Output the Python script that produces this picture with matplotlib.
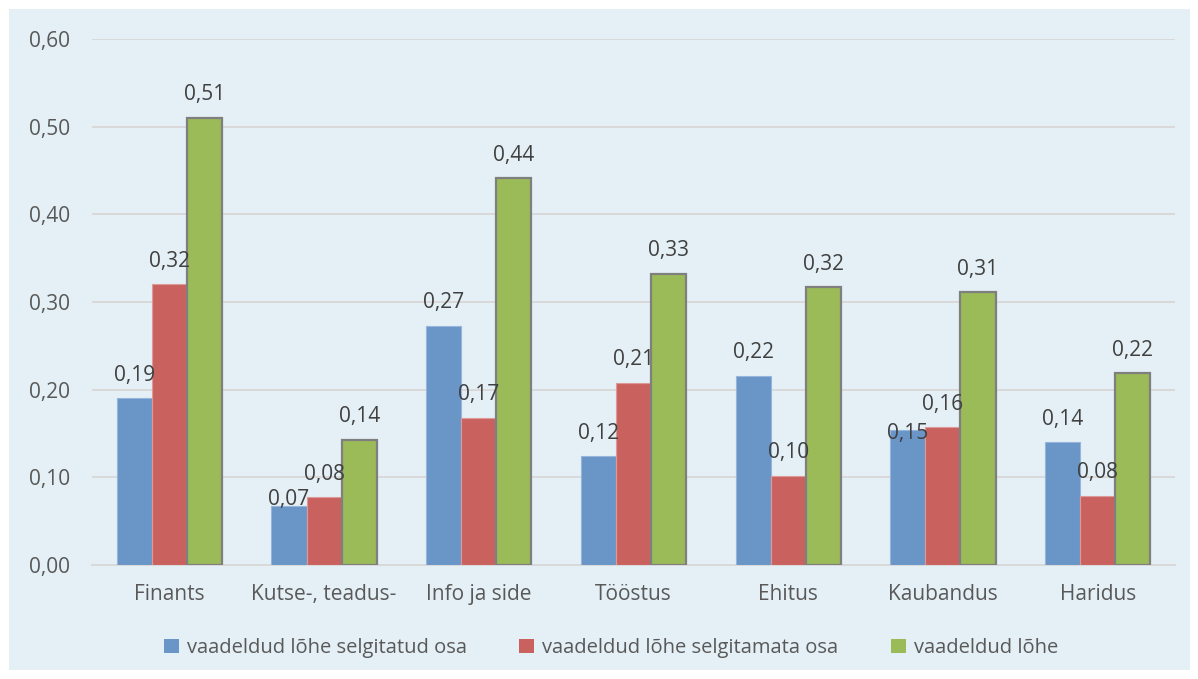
import matplotlib
matplotlib.use("Agg")
import matplotlib.pyplot as plt
from matplotlib.patches import Rectangle
import numpy as np

categories = ["Finants", "Kutse-, teadus-", "Info ja side", "Tööstus", "Ehitus", "Kaubandus", "Haridus"]
series_names = ["vaadeldud lõhe selgitatud osa", "vaadeldud lõhe selgitamata osa", "vaadeldud lõhe"]
explained = [0.19, 0.067, 0.273, 0.124, 0.216, 0.154, 0.14]
unexplained = [0.32, 0.077, 0.168, 0.208, 0.102, 0.157, 0.079]
total = [0.51, 0.143, 0.441, 0.332, 0.317, 0.311, 0.219]
yticks = [0.0, 0.1, 0.2, 0.3, 0.4, 0.5, 0.6]

plt.rcParams['font.family'] = ['Open Sans', 'DejaVu Sans']

fig = plt.figure(figsize=(11.98, 6.79), dpi=100)
fig.patch.set_facecolor("white")
panel = Rectangle((9 / 1198, 9 / 679), 1181 / 1198, 661 / 679,
                  transform=fig.transFigure, facecolor="#E4F0F6",
                  edgecolor="none", zorder=-10)
fig.add_artist(panel)

ax = fig.add_axes([92 / 1198, 114 / 679, 1083 / 1198, 526 / 679])
ax.set_facecolor("none")
ax.set_zorder(1)

x = np.arange(len(categories))
w = 0.227
fills = ["#6A95C7", "#C9625F", "#9BBB59"]
edges = ["#95B5DC", "#DC9A98", "#7F7F7F"]
lws = [0.8, 0.8, 1.6]
data = [explained, unexplained, total]

# labels that would collide with a neighbour are pushed down (series, category) -> points
label_drop = {(0, 1): 12, (0, 5): 19}

for i, (vals, fc, ec, lw, name) in enumerate(zip(data, fills, edges, lws, series_names)):
    pos = x + (i - 1) * w
    bars = ax.bar(pos, vals, width=w, color=fc, edgecolor=ec, linewidth=lw,
                  label=name, zorder=3)
    for j, (b, v) in enumerate(zip(bars, vals)):
        dy = 9 - label_drop.get((i, j), 0)
        ax.annotate(f"{v:.2f}".replace(".", ","),
                    (b.get_x() + b.get_width() / 2, v),
                    xytext=(0, dy), textcoords="offset points",
                    ha="center", va="bottom", fontsize=15,
                    color="#404040", zorder=5)

ax.set_xlim(-0.5, len(categories) - 0.5)
ax.set_ylim(0, 0.6)
ax.set_yticks(yticks)
ax.set_yticklabels([f"{t:.2f}".replace(".", ",") for t in yticks])
ax.set_xticks(x)
ax.set_xticklabels(categories)
ax.yaxis.grid(True, color="#D9D9D9", linewidth=1.4, zorder=0)
ax.set_axisbelow(True)
for s in ["top", "right", "left"]:
    ax.spines[s].set_visible(False)
ax.spines["bottom"].set_color("#D9D9D9")
ax.spines["bottom"].set_linewidth(1.4)
ax.tick_params(axis="both", length=0, labelsize=15, labelcolor="#595959")
ax.tick_params(axis="y", pad=16)
ax.tick_params(axis="x", pad=14)

handles, labels = ax.get_legend_handles_labels()
leg = fig.legend(handles, labels, loc="center", bbox_to_anchor=(0.51, 31 / 679),
                 ncol=3, frameon=False, fontsize=14.5, handlelength=0.75,
                 handleheight=0.75, handletextpad=0.4, columnspacing=2.6)
for t in leg.get_texts():
    t.set_color("#595959")
for h in leg.legend_handles:
    h.set_edgecolor(h.get_facecolor())
    h.set_linewidth(0)

fig.savefig("out.png", dpi=100, facecolor="white")
